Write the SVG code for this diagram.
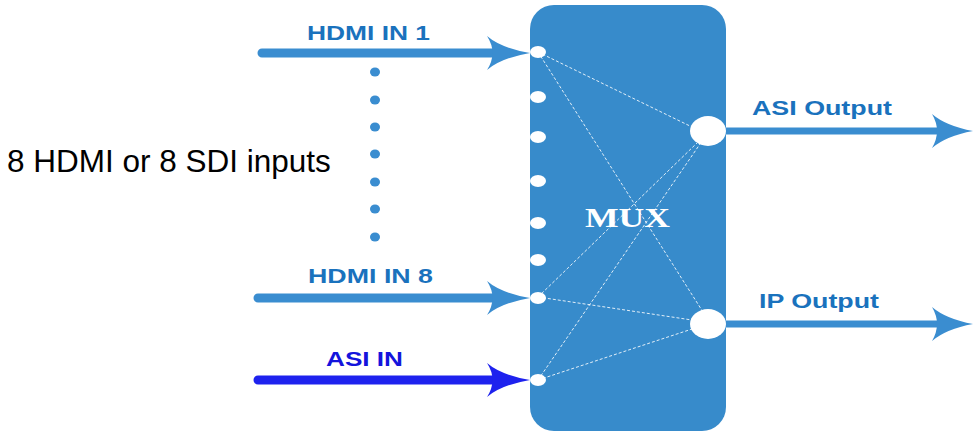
<svg xmlns="http://www.w3.org/2000/svg" width="976" height="434" viewBox="0 0 976 434">
<defs>
<style>
.lbl{font-family:"Liberation Sans",Arial,sans-serif;font-weight:bold;font-size:20px;fill:#1a72bd}
.port{fill:#ffffff}
.dash{stroke:#ffffff;stroke-width:1;stroke-dasharray:3 2;fill:none;opacity:0.85}
.arr{fill:none;stroke-width:9;stroke-linecap:round}
.dot{fill:#3a8dd0}
</style>
<marker id="ah" markerUnits="userSpaceOnUse" markerWidth="46" markerHeight="38" refX="20" refY="18" orient="auto" viewBox="0 0 46 38" overflow="visible">
<path d="M0,1 Q14,13 43,18 Q14,23 0,35 Q11,18 0,1 Z" fill="#3a8dd0"/>
</marker>
<marker id="ahb" markerUnits="userSpaceOnUse" markerWidth="46" markerHeight="38" refX="20" refY="18" orient="auto" viewBox="0 0 46 38" overflow="visible">
<path d="M0,1 Q14,13 43,18 Q14,23 0,35 Q11,18 0,1 Z" fill="#1e22ee"/>
</marker>
<marker id="aho" markerUnits="userSpaceOnUse" markerWidth="46" markerHeight="38" refX="20" refY="17" orient="auto" viewBox="0 0 46 38" overflow="visible">
<path d="M0,0 Q14,12 41,17 Q14,22 0,34 Q10,17 0,0 Z" fill="#3a8dd0"/>
</marker>
</defs>

<g id="mux">
<rect x="530" y="5" width="196" height="426" rx="24" ry="24" fill="#378bcb"/>
<text x="585" y="227" font-family="'Liberation Serif','Times New Roman',serif" font-size="28" font-weight="bold" fill="#ffffff" textLength="85" lengthAdjust="spacingAndGlyphs">MUX</text>
</g>

<g id="connectors">
<line class="dash" x1="538" y1="52" x2="692" y2="127"/>
<line class="dash" x1="538" y1="52" x2="703" y2="312"/>
<line class="dash" x1="538" y1="297" x2="697" y2="143"/>
<line class="dash" x1="538" y1="380" x2="700" y2="144"/>
<line class="dash" x1="538" y1="297" x2="692" y2="320"/>
<line class="dash" x1="538" y1="380" x2="692" y2="329"/>
<line class="arr" x1="262" y1="53" x2="507" y2="53" stroke="#3a8dd0" marker-end="url(#ah)"/>
<line class="arr" x1="258" y1="298" x2="507" y2="298" stroke="#3a8dd0" marker-end="url(#ah)"/>
<line class="arr" x1="258" y1="380" x2="507" y2="380" stroke="#1e22ee" marker-end="url(#ahb)"/>
<line x1="722" y1="131" x2="952" y2="131" stroke="#3a8dd0" stroke-width="7" marker-end="url(#aho)"/>
<line x1="722" y1="324" x2="952" y2="324" stroke="#3a8dd0" stroke-width="7" marker-end="url(#aho)"/>
</g>

<g id="inputs">
<ellipse class="port" cx="538" cy="52" rx="8" ry="6"/>
<ellipse class="port" cx="538" cy="97" rx="8" ry="6"/>
<ellipse class="port" cx="538" cy="137" rx="8" ry="6"/>
<ellipse class="port" cx="538" cy="181" rx="8" ry="6"/>
<ellipse class="port" cx="538" cy="223" rx="8" ry="6"/>
<ellipse class="port" cx="538" cy="260" rx="8" ry="6"/>
<ellipse class="port" cx="538" cy="298" rx="8" ry="6"/>
<ellipse class="port" cx="538" cy="380" rx="8" ry="6"/>
</g>

<g id="outputs">
<ellipse class="port" cx="708" cy="131" rx="18" ry="15"/>
<ellipse class="port" cx="708" cy="324" rx="18" ry="15"/>
</g>

<g id="dots">
<ellipse class="dot" cx="375" cy="72" rx="5" ry="4.5"/>
<ellipse class="dot" cx="375" cy="100" rx="5" ry="4.5"/>
<ellipse class="dot" cx="375" cy="127" rx="5" ry="4.5"/>
<ellipse class="dot" cx="375" cy="154" rx="5" ry="4.5"/>
<ellipse class="dot" cx="375" cy="182" rx="5" ry="4.5"/>
<ellipse class="dot" cx="375" cy="209" rx="5" ry="4.5"/>
<ellipse class="dot" cx="375" cy="237" rx="5" ry="4.5"/>
</g>

<g id="labels">
<text class="lbl" x="307" y="40" textLength="123" lengthAdjust="spacingAndGlyphs">HDMI IN 1</text>
<text class="lbl" x="308" y="283" textLength="125" lengthAdjust="spacingAndGlyphs">HDMI IN 8</text>
<text class="lbl" x="326" y="366" textLength="77" lengthAdjust="spacingAndGlyphs" style="fill:#1414dc">ASI IN</text>
<text class="lbl" x="752" y="115" textLength="140" lengthAdjust="spacingAndGlyphs">ASI Output</text>
<text class="lbl" x="759" y="308" textLength="120" lengthAdjust="spacingAndGlyphs">IP Output</text>
<text x="7" y="172" font-family="'Liberation Sans',Arial,sans-serif" font-size="31.5" fill="#000000">8 HDMI or 8 SDI inputs</text>
</g>
</svg>
